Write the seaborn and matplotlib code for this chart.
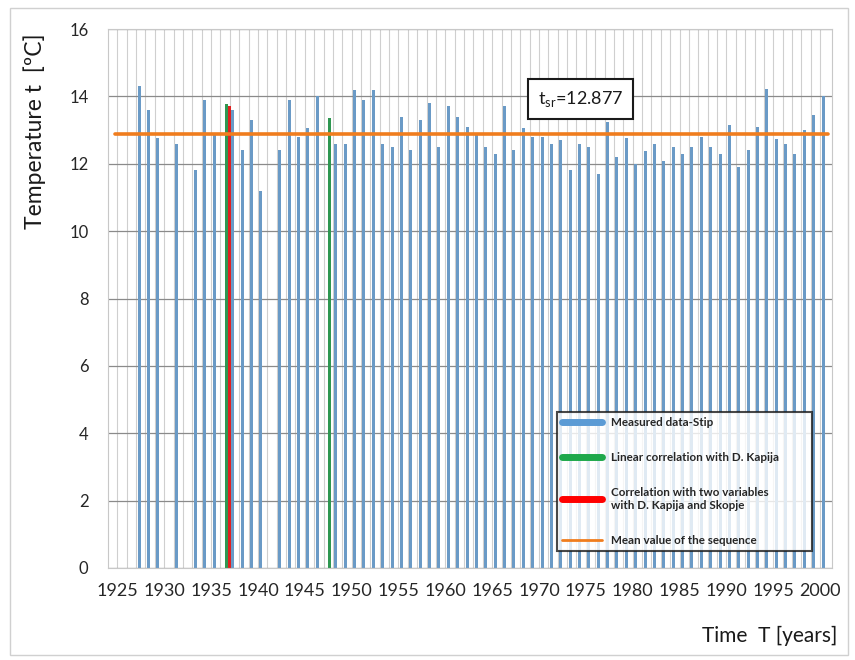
import numpy as np
import pandas as pd
import matplotlib
matplotlib.use("Agg")
import matplotlib.pyplot as plt
import seaborn as sns
from matplotlib.lines import Line2D
from matplotlib.patches import Rectangle

# ---------------- data ----------------
years = list(range(1925, 2001))
measured = [
    np.nan, np.nan, 14.3, 13.6, 12.75, np.nan, 12.6, np.nan, 11.8, 13.9,   # 1925-1934
    12.85, np.nan, 13.6, 12.4, 13.3, 11.2, np.nan, 12.4, 13.9, 12.8,        # 1935-1944
    13.07, 14.0, np.nan, 12.6, 12.6, 14.2, 13.9, 14.2, 12.6, 12.5,          # 1945-1954
    13.4, 12.4, 13.3, 13.8, 12.5, 13.7, 13.4, 13.1, 12.85, 12.5,            # 1955-1964
    12.3, 13.7, 12.4, 13.07, 12.8, 12.8, 12.6, 12.7, 11.8, 12.6,            # 1965-1974
    12.5, 11.7, 13.25, 12.2, 12.77, 12.0, 12.38, 12.6, 12.07, 12.5,         # 1975-1984
    12.28, 12.5, 12.8, 12.5, 12.3, 13.15, 11.9, 12.42, 13.08, 14.23,        # 1985-1994
    12.72, 12.6, 12.3, 13.0, 13.45, 14.0,                                   # 1995-2000
]
linear_years = [1937, 1948]
linear_vals = [13.78, 13.37]
two_var_years = [1937]
two_var_vals = [13.7]
mean_value = 12.877

lab_meas = "Measured data-Stip"
lab_lin = "Linear correlation with D. Kapija"
lab_two = "Correlation with two variables\nwith D. Kapija and Skopje"
lab_mean = "Mean value of the sequence"

c_blue = "#5b9bd5"
c_green = "#1ea84b"
c_red = "#ff0000"
c_orange = "#f07d1e"

rows = []
for y, v in zip(years, measured):
    if not np.isnan(v):
        rows.append((y, lab_meas, v))
for y, v in zip(linear_years, linear_vals):
    rows.append((y, lab_lin, v))
for y, v in zip(two_var_years, two_var_vals):
    rows.append((y, lab_two, v))
df = pd.DataFrame(rows, columns=["year", "series", "value"])

# ---------------- figure ----------------
sns.set_theme(style="white")
plt.rcParams["font.family"] = ["Lato", "DejaVu Sans"]

fig = plt.figure(figsize=(8.55, 6.6), dpi=100)
ax = fig.add_axes([108 / 855, 1 - 568 / 660, 724 / 855, 539 / 660])

sns.barplot(data=df, x="year", y="value", hue="series", order=years,
            hue_order=[lab_lin, lab_two, lab_meas],
            palette={lab_meas: c_blue, lab_lin: c_green, lab_two: c_red},
            dodge=True, width=0.96, errorbar=None, legend=False,
            linewidth=0, ax=ax)

ax.axhline(mean_value, xmin=0.01, xmax=0.995, color=c_orange, lw=2.6, zorder=5)

ax.set_xlim(-1.0, len(years) + 0.27)
ax.set_ylim(0, 16)
ax.set_yticks(np.arange(0, 17, 2))
ax.set_xticks(range(len(years)))
ax.set_xticklabels([str(y) if y % 5 == 0 else "" for y in years])
ax.tick_params(axis="x", length=0, pad=11, labelsize=13, labelcolor="#262626")
ax.tick_params(axis="y", length=0, pad=14, labelsize=12, labelcolor="#262626")

ax.grid(axis="x", color="#cfcfcf", lw=0.8)
ax.grid(axis="y", color="#8a8a8a", lw=0.9)
ax.set_axisbelow(True)
for s in ax.spines.values():
    s.set_color("#c8c8c8")
    s.set_linewidth(0.8)

ax.set_xlabel("")
ax.set_ylabel("Temperature t  [ºC]", fontsize=16.5, color="#1a1a1a")
ax.yaxis.set_label_coords(-0.085, 0.81)
fig.text(837 / 855, 1 - 636 / 660, "Time  T [years]", ha="right", va="center",
         fontsize=15, color="#1a1a1a")

ax.text(0.653, 0.870, r"t$_{\mathregular{sr}}$=12.877", transform=ax.transAxes,
        ha="center", va="center", fontsize=13, color="#1a1a1a", zorder=6,
        bbox=dict(boxstyle="square,pad=0.55", fc="white", ec="#1a1a1a", lw=1.5))

handles = [
    Line2D([0], [0], color=c_blue, lw=5, solid_capstyle="round"),
    Line2D([0], [0], color=c_green, lw=5, solid_capstyle="round"),
    Line2D([0], [0], color=c_red, lw=5, solid_capstyle="round"),
    Line2D([0], [0], color=c_orange, lw=2),
]
leg = ax.legend(handles, [lab_meas, lab_lin, lab_two, lab_mean],
                loc="upper left", bbox_to_anchor=(0.62, 0.0334, 0.352, 0.256),
                mode="expand", fontsize=8.4, frameon=True, fancybox=False,
                handlelength=3.4, labelspacing=2.05, borderpad=0.45,
                handletextpad=0.8, borderaxespad=0)
leg.get_frame().set_edgecolor("#1a1a1a")
leg.get_frame().set_linewidth(1.5)
leg.set_zorder(7)
for t in leg.get_texts():
    t.set_fontweight("bold")
    t.set_color("#262626")

fig.add_artist(Rectangle((10 / 855, 1 - 655 / 660), 838 / 855, 647 / 660,
                         transform=fig.transFigure, fill=False,
                         ec="#d0d0d0", lw=1))

fig.savefig("out.png", dpi=100)
